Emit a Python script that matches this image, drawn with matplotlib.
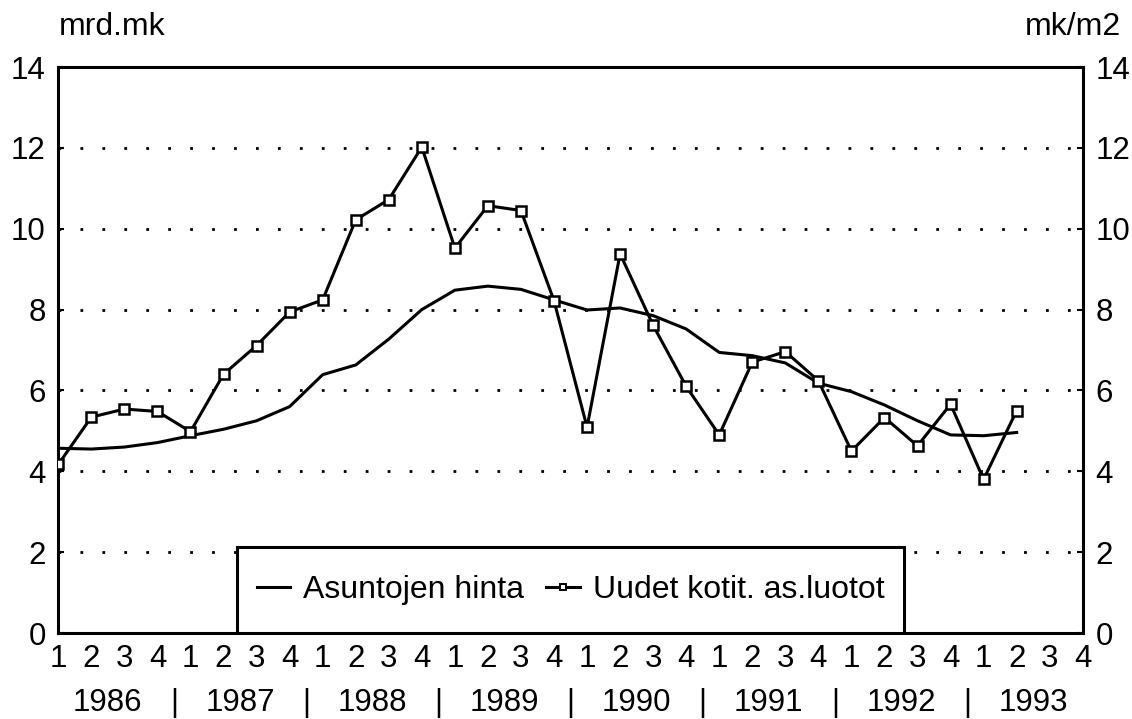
import numpy as np
import matplotlib
matplotlib.use('Agg')
import matplotlib.pyplot as plt
from matplotlib.patches import Rectangle
from matplotlib.lines import Line2D

plt.rcParams['font.family'] = ['Liberation Sans', 'DejaVu Sans']

# quarters 1986Q1 .. 1993Q4
years = ['1986', '1987', '1988', '1989', '1990', '1991', '1992', '1993']
quarter_labels = ['1', '2', '3', '4'] * len(years)

# Asuntojen hinta (mk/m2, scaled), 1986Q1 .. 1993Q2
hinta = [4.57, 4.55, 4.60, 4.71, 4.88, 5.04, 5.25, 5.60, 6.39, 6.63,
         7.27, 8.00, 8.48, 8.58, 8.50, 8.24, 7.99, 8.04, 7.85, 7.52,
         6.94, 6.86, 6.68, 6.18, 5.97, 5.64, 5.25, 4.90, 4.88, 4.96]

# Uudet kotit. as.luotot (mrd.mk), 1986Q1 .. 1993Q2
luotot = [4.17, 5.34, 5.54, 5.48, 4.98, 6.40, 7.11, 7.94, 8.24, 10.22,
          10.72, 12.02, 9.52, 10.57, 10.45, 8.22, 5.09, 9.38, 7.61, 6.10,
          4.90, 6.70, 6.96, 6.24, 4.50, 5.33, 4.63, 5.66, 3.80, 5.50]

yticks = [0, 2, 4, 6, 8, 10, 12, 14]

fig = plt.figure(figsize=(11.32, 7.19), dpi=100)
ax = fig.add_axes([0.0515, 0.1196, 0.905, 0.7872])

x1 = np.arange(len(hinta))
x2 = np.arange(len(luotot))
ax.plot(x1, hinta, color='black', lw=2.2, zorder=3)
ax.plot(x2, luotot, color='black', lw=2.2, marker='s', ms=6.5,
        mfc='white', mec='black', mew=1.8, zorder=4)

ax.set_xlim(0, len(quarter_labels) - 1)
ax.set_ylim(0, 14)

for v in yticks[1:-1]:
    ax.axhline(v, color='black', lw=2.0, ls=(0, (1, 6.9)), zorder=1)

ax.set_yticks(yticks)
ax.set_xticks(np.arange(len(quarter_labels)))
ax.set_xticklabels(quarter_labels)
ax.tick_params(axis='x', length=0, pad=8, labelsize=22.5)
ax.tick_params(axis='y', length=4, width=1.5, direction='in', pad=9,
               labelsize=22.5, left=True, right=True,
               labelleft=True, labelright=True)

for s in ax.spines.values():
    s.set_linewidth(2.2)

# year labels and separators under the quarters
trans = ax.get_xaxis_transform()
for i, yr in enumerate(years):
    ax.text(4 * i + 1.5, -0.124, yr, transform=trans, ha='center',
            va='center', fontsize=22.5)
    if i < len(years) - 1:
        ax.text(4 * i + 3.5, -0.124, '|', transform=trans, ha='center',
                va='center', fontsize=22)

fig.text(0.052, 0.962, 'mrd.mk', fontsize=23, ha='left', va='center')
fig.text(0.99, 0.962, 'mk/m2', fontsize=23, ha='right', va='center')

# legend box
box = Rectangle((0.1744, 0.0), 0.6512, 0.152, transform=ax.transAxes,
                facecolor='white', edgecolor='black', lw=2.2, zorder=5)
ax.add_patch(box)
handles = [Line2D([], [], color='black', lw=2.2),
           Line2D([], [], color='black', lw=2.2, marker='s', ms=5,
                  mfc='white', mec='black', mew=1.4)]
leg = ax.legend(handles, ['Asuntojen hinta', 'Uudet kotit. as.luotot'],
                loc='center', bbox_to_anchor=(0.5, 0.076), ncol=2,
                frameon=False, fontsize=23, handlelength=1.05,
                handletextpad=0.4, columnspacing=0.7, borderpad=0)
leg.set_zorder(6)

fig.savefig('out.png', dpi=100)
